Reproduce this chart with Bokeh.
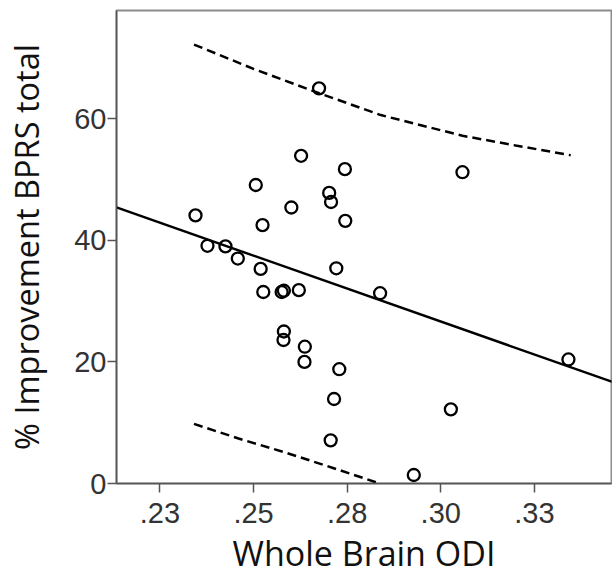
from bokeh.plotting import figure
from bokeh.models import Range1d, FixedTicker, LinearAxis
from bokeh.embed import file_html
from bokeh.resources import INLINE

# Scatter data
odi = [0.2675, 0.2627, 0.2744, 0.3058, 0.2506, 0.2702, 0.2707, 0.2601, 0.2345,
       0.2745, 0.2524, 0.2377, 0.2425, 0.2458, 0.2519, 0.2721, 0.2526, 0.2575,
       0.2581, 0.2621, 0.2838, 0.2581, 0.2580, 0.2637, 0.2636, 0.3341, 0.2729,
       0.2715, 0.3027, 0.2706, 0.2928]
bprs = [65.0, 53.9, 51.7, 51.2, 49.1, 47.8, 46.3, 45.4, 44.1,
        43.2, 42.5, 39.1, 39.0, 37.0, 35.3, 35.4, 31.5, 31.5,
        31.7, 31.8, 31.3, 25.0, 23.6, 22.5, 20.0, 20.4, 18.8,
        13.9, 12.2, 7.1, 1.4]

# Fit line (endpoints)
fit_x = [0.2134, 0.3459]
fit_y = [45.4, 16.7]

# Prediction interval curves
upper_x = [0.2341, 0.2500, 0.2675, 0.2840, 0.3058, 0.3200, 0.3347]
upper_y = [72.2, 68.2, 64.2, 60.6, 57.2, 55.6, 54.0]
lower_x = [0.2341, 0.2460, 0.2590, 0.2710, 0.2837]
lower_y = [9.8, 7.4, 5.0, 2.6, 0.0]

x_ticks = [0.225, 0.25, 0.275, 0.3, 0.325]
x_tick_labels = [".23", ".25", ".28", ".30", ".33"]
y_ticks = [0, 20, 40, 60]

x_title = "Whole Brain ODI"
y_title = "% Improvement BPRS total"

p = figure(width=612, height=580, output_backend="svg", toolbar_location=None,
           x_range=Range1d(0.2134, 0.3456), y_range=Range1d(0, 77.8),
           min_border_left=116, min_border_right=1, min_border_top=10,
           min_border_bottom=97)

p.xgrid.visible = False
p.ygrid.visible = False
p.outline_line_color = "#8c8c8c"
p.outline_line_width = 2
p.background_fill_color = "white"
p.border_fill_color = "white"

p.line(fit_x, fit_y, line_color="black", line_width=2.4)
p.line(upper_x, upper_y, line_color="black", line_width=2.5, line_dash="9 5")
p.line(lower_x, lower_y, line_color="black", line_width=2.5, line_dash="9 5")
p.scatter(odi, bprs, marker="circle", size=12, fill_alpha=0,
          line_color="black", line_width=2.3)

for ax in (p.xaxis[0], p.yaxis[0]):
    ax.axis_line_color = "#555555"
    ax.axis_line_width = 1.5
    ax.major_tick_line_color = "#555555"
    ax.major_tick_line_width = 1.5
    ax.major_tick_out = 9
    ax.major_tick_in = 0
    ax.minor_tick_out = 0
    ax.minor_tick_in = 0
    ax.major_label_text_font = "Liberation Sans"
    ax.major_label_text_font_size = "29px"
    ax.major_label_text_color = "#333333"

p.xaxis[0].ticker = FixedTicker(ticks=x_ticks)
p.xaxis[0].major_label_overrides = {t: l for t, l in zip(x_ticks, x_tick_labels)}
p.yaxis[0].ticker = FixedTicker(ticks=y_ticks)
p.xaxis[0].major_label_standoff = 10
p.yaxis[0].major_label_standoff = 1


def title_axis(label, size, standoff, bounds):
    ax = LinearAxis(axis_label=label, ticker=FixedTicker(ticks=[], minor_ticks=[]),
                    bounds=bounds)
    ax.axis_line_color = None
    ax.major_tick_out = 0
    ax.major_tick_in = 0
    ax.minor_tick_out = 0
    ax.minor_tick_in = 0
    ax.major_label_standoff = 0
    ax.axis_label_standoff = standoff
    ax.axis_label_text_font = "Open Sans"
    ax.axis_label_text_font_style = "normal"
    ax.axis_label_text_font_size = size
    ax.axis_label_text_color = "#111111"
    return ax


xt = title_axis(x_title, "34px", 4, (0.2134, 0.3426))
p.add_layout(xt, "below")

yt = title_axis(y_title, "32.5px", 23, (5.6, 77.8))
p.add_layout(yt, "left")

open("out.html", "w").write(file_html(p, INLINE))
